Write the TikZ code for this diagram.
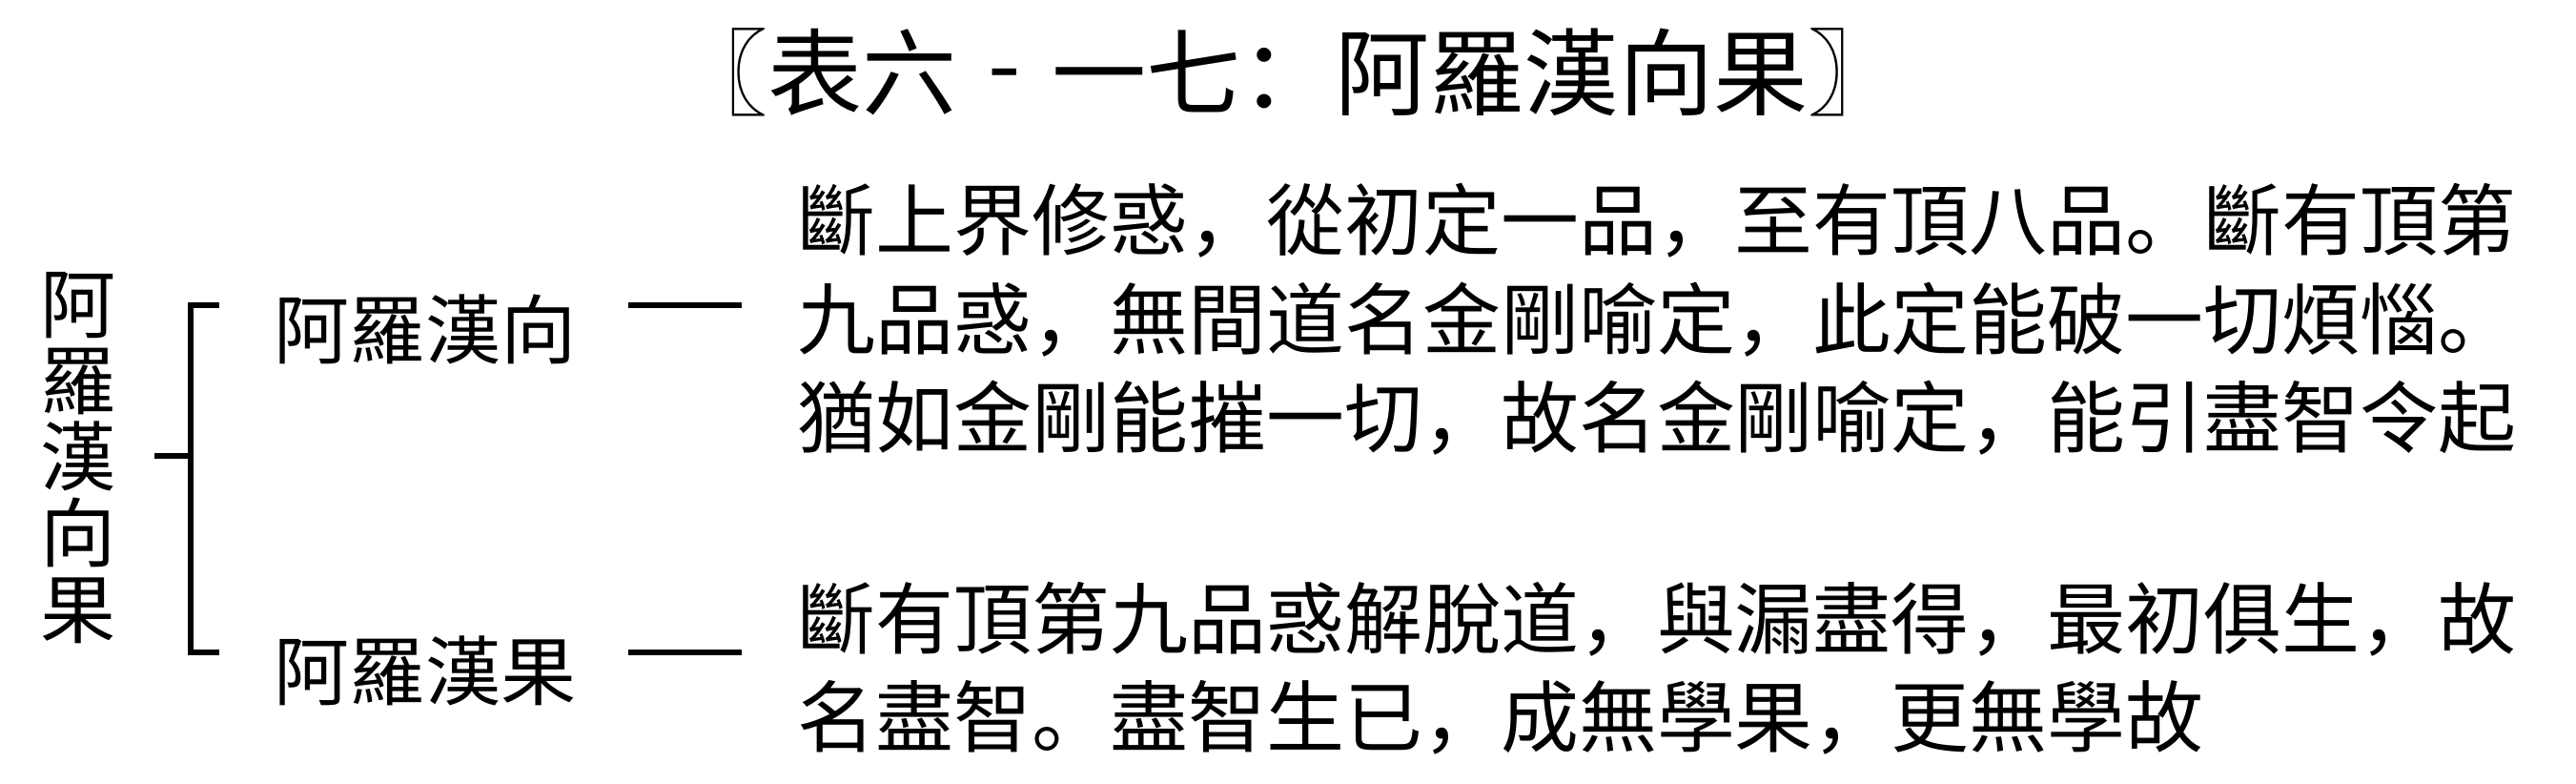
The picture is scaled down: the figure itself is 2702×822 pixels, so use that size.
\documentclass[tikz,border=0pt]{standalone}
\usepackage{fontspec}
\setmainfont{Noto Sans CJK SC}
\usetikzlibrary{positioning}

\begin{document}
\begin{tikzpicture}[
    x=0.01cm, y=-0.01cm,
    bracket/.style={line width=1.7pt},
    titletext/.style={inner sep=0pt, font=\fontsize{28.2}{31}\selectfont},
    branch/.style={inner sep=0pt, font=\fontsize{22.5}{25}\selectfont},
    vlabel/.style={inner sep=0pt, align=center, font=\fontsize{22.5}{22.8}\selectfont},
    gloss/.style={inner sep=0pt, align=left, anchor=west, font=\fontsize{23.3}{29.4}\selectfont}
]
\useasboundingbox (0,0) rectangle (2702,822);

% Title
\node[titletext] (title) at (1351,76) {〖表六\makebox[1em]{\raisebox{0.1em}{-}}一七：阿羅漢向果〗};

% Left side
\node[vlabel] (root) at (82,480) {阿\\羅\\漢\\向\\果};
\node[branch] (xiang) at (446,345) {阿羅漢向};
\node[branch] (guo) at (446,703) {阿羅漢果};

% Texts
\node[gloss] (xiangtext) at (836,335) {斷上界修惑，從初定一品，至有頂八品。斷有頂第\\
九品惑，無間道名金剛喻定，此定能破一切煩惱。\\
猶如金剛能摧一切，故名金剛喻定，能引盡智令起};
\node[gloss] (guotext) at (836,701) {斷有頂第九品惑解脫道，與漏盡得，最初俱生，故\\
名盡智。盡智生已，成無學果，更無學故};

% Bracket
\coordinate (btop) at (230,320);
\coordinate (bbot) at (230,684);
\coordinate (bmid) at (200,478);
\coordinate (tick) at (162,478);
\draw[bracket] (btop) -| (bmid) |- (bbot);
\draw[bracket] (tick) -- (bmid);

% Dashes
\coordinate (xiangdash) at (659,320);
\coordinate (guodash) at (659,684);
\draw[bracket] (xiangdash) -- ++(119,0);
\draw[bracket] (guodash) -- ++(119,0);

\end{tikzpicture}
\end{document}
